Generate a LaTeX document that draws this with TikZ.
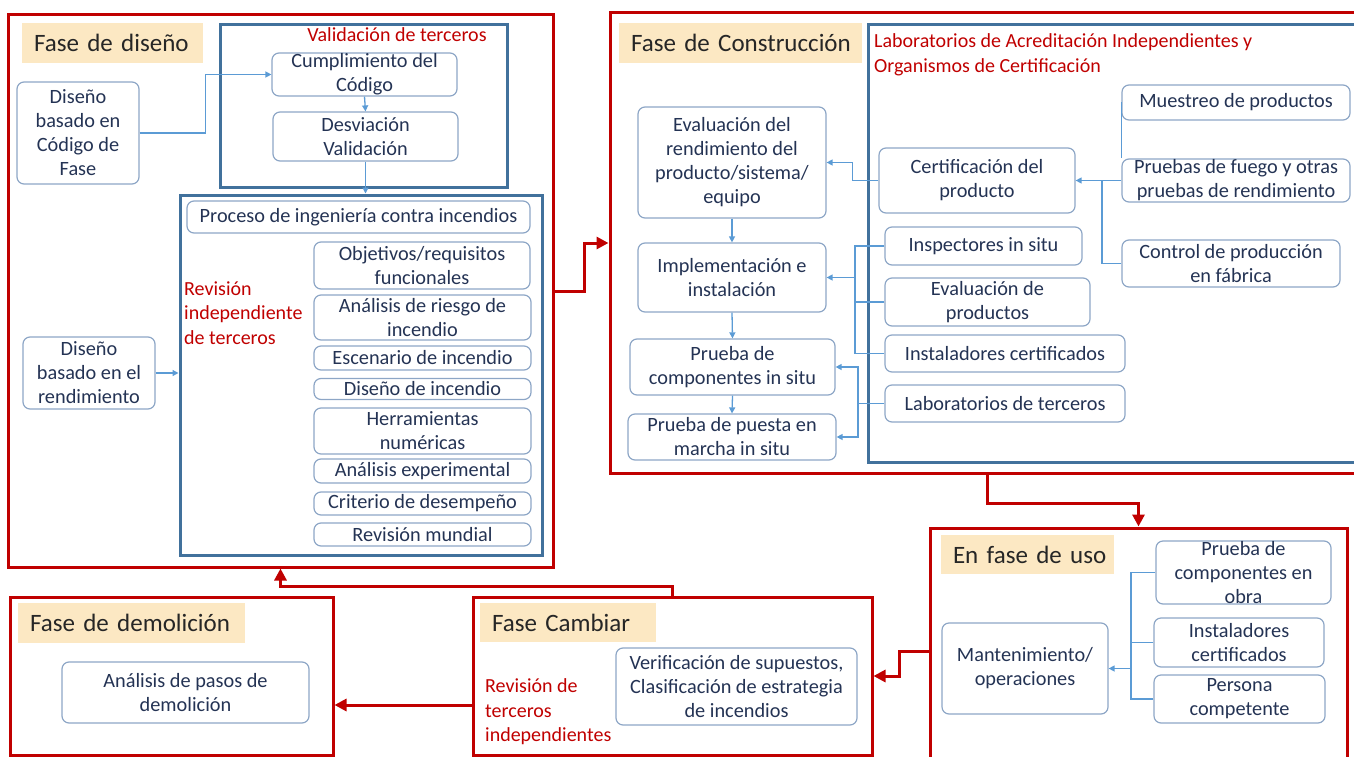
\documentclass[tikz,border=0pt]{standalone}
\usepackage{fontspec}
\setmainfont{Carlito}
\usepackage{xcolor}
\usetikzlibrary{arrows.meta,fit}
\definecolor{phred}{HTML}{C00000}
\definecolor{grpblue}{HTML}{41719C}
\definecolor{boxline}{HTML}{8DA6C6}
\definecolor{lnblue}{HTML}{5B9BD5}
\definecolor{txt}{HTML}{243354}
\definecolor{cream}{HTML}{FCE8C3}
\tikzset{
phase/.style={draw=phred, line width=3pt, inner sep=0pt},
panel/.style={draw=grpblue, line width=3pt, inner sep=0pt},
tag/.style={fill=cream, text=black!85, font=\fontsize{25}{29}\selectfont, inner sep=0pt},
box/.style={draw=boxline, line width=1.2pt, rounded corners=7pt, text=txt, align=center, font=\fontsize{20.3}{24}\selectfont, inner xsep=2pt, inner ysep=0pt},
note/.style={text=phred, align=left, font=\fontsize{20}{24.5}\selectfont, inner sep=0pt},
wire/.style={draw=lnblue, line width=1.3pt},
link/.style={wire, -{Triangle[length=6pt,width=6pt]}},
flow/.style={draw=phred, line width=3pt, -{Triangle[length=12pt,width=12pt]}}
}
\begin{document}
\begin{tikzpicture}[x=1pt,y=-1pt]
\useasboundingbox (0,0) rectangle (1354,757);
% Fase de diseño
\node[phase, fit={(8,15) (553,567)}] (disF) {};
\node[tag, minimum width=181, minimum height=40, text width=157] (disT) at (112.5,43) {\mbox{Fase de diseño}};
\node[panel, fit={(220,25) (507,187)}] (valG) {};
\node[note] (valN) at (397,35) {Validación de terceros};
\node[box, minimum width=185, minimum height=43] (cumpl) at (364.5,74.5) {Cumplimiento del\\Código};
\node[box, minimum width=185, minimum height=49] (desv) at (365.5,136.5) {Desviación\\Validación};
\node[box, minimum width=122, minimum height=102] (codF) at (78,133) {Diseño\\basado en\\Código de\\Fase};
\node[panel, fit={(180,195) (542,555)}] (revG) {};
\node[box, minimum width=343, minimum height=32] (proc) at (358.5,217) {Proceso de ingeniería contra incendios};
\node[note, anchor=west] (revN) at (184,313) {Revisión\\independiente\\de terceros};
\node[box, minimum width=216, minimum height=47] (obj) at (422,265.5) {Objetivos/requisitos\\funcionales};
\node[box, minimum width=217, minimum height=45] (riesgo) at (422.5,317.5) {Análisis de riesgo de\\incendio};
\node[box, minimum width=217, minimum height=24] (escen) at (422.5,358) {Escenario de incendio};
\node[box, minimum width=217, minimum height=21] (disInc) at (422.5,389) {Diseño de incendio};
\node[box, minimum width=217, minimum height=46] (herr) at (422.5,431) {Herramientas\\numéricas};
\node[box, minimum width=217, minimum height=24] (exper) at (422.5,471) {Análisis experimental};
\node[box, minimum width=217, minimum height=23] (crit) at (422.5,503.5) {Criterio de desempeño};
\node[box, minimum width=217, minimum height=23] (mund) at (422.5,534.5) {Revisión mundial};
\node[box, minimum width=132, minimum height=72] (rend) at (89,373) {Diseño\\basado en el\\rendimiento};
\draw[link] (codF.east) -- ++(66,0) |- (cumpl.west);
\draw[link] (cumpl.south) -- (desv.north);
\draw[link] (desv.south) -- (desv.south |- revG.north);
\draw[link] (rend.east) -- (rend.east -| revG.west);
% Fase de Construcción
\node[phase, fit={(610,13) (1365,473)}] (conF) {};
\node[tag, minimum width=243, minimum height=40, text width=219] (conT) at (740.5,43) {\mbox{Fase de Construcción}};
\node[panel, fit={(868,25) (1370,462)}] (labG) {};
\node[note, anchor=west] (labN) at (874,55) {Laboratorios de Acreditación Independientes y\\Organismos de Certificación};
\node[box, minimum width=188, minimum height=111] (evalR) at (732,162.5) {Evaluación del\\rendimiento del\\producto/sistema/\\equipo};
\node[box, minimum width=188, minimum height=69] (impl) at (732,277.5) {Implementación e\\instalación};
\node[box, minimum width=205, minimum height=56] (pComp) at (732.5,367) {Prueba de\\componentes in situ};
\node[box, minimum width=208, minimum height=46] (pPuesta) at (732,437) {Prueba de puesta en\\marcha in situ};
\node[box, minimum width=196, minimum height=65] (certif) at (977,180.5) {Certificación del\\producto};
\node[box, minimum width=197, minimum height=38] (insp) at (983.5,246) {Inspectores in situ};
\node[box, minimum width=205, minimum height=48] (evalP) at (987.5,302) {Evaluación de\\productos};
\node[box, minimum width=240, minimum height=37] (instal) at (1005,353.5) {Instaladores certificados};
\node[box, minimum width=240, minimum height=37] (labT) at (1005,403.5) {Laboratorios de terceros};
\node[box, minimum width=228, minimum height=35] (muest) at (1236,102.5) {Muestreo de productos};
\node[box, minimum width=228, minimum height=43] (fuego) at (1236,180.5) {Pruebas de fuego y otras\\pruebas de rendimiento};
\node[box, minimum width=218, minimum height=47] (ctrl) at (1231,263.5) {Control de producción\\en fábrica};
\coordinate (bI) at (855,277.5);
\coordinate (bL) at (858,403.5);
\coordinate (bC) at (1102,180.5);
\draw[link] (evalR.south) -- (impl.north);
\draw[link] (impl.south) -- (pComp.north);
\draw[link] (pComp.south) -- (pPuesta.north);
\draw[link] (certif.west) -- ++(-26,0) |- (evalR.east);
\draw[wire] (insp.west) -| (bI);
\draw[wire] (instal.west) -| (bI);
\draw[wire] (evalP.west) -- (evalP.west -| bI);
\draw[link] (bI) -- (impl.east);
\draw[wire] (labT.west) -- (bL);
\draw[link] (bL) |- (pComp.east);
\draw[link] (bL) |- (pPuesta.east);
\draw[link] (fuego.west) -- (certif.east);
\draw[wire] (muest.west) -- (muest.west |- fuego.north);
\draw[wire] (ctrl.west) -| (bC);
% En fase de uso
\node[phase, fit={(930,528) (1347,775)}] (usoF) {};
\node[tag, minimum width=173, minimum height=39, text width=149] (usoT) at (1027.5,554.5) {\mbox{En fase de uso}};
\node[box, minimum width=166, minimum height=91] (mant) at (1025,668.5) {Mantenimiento/\\operaciones};
\node[box, minimum width=175, minimum height=63] (cObra) at (1243.5,572.5) {Prueba de\\componentes en\\obra};
\node[box, minimum width=170, minimum height=49] (instU) at (1239,642.5) {Instaladores\\certificados};
\node[box, minimum width=171, minimum height=48] (pers) at (1239.5,699) {Persona\\competente};
\coordinate (bU) at (1131,668.5);
\draw[wire] (cObra.west) -| (bU);
\draw[wire] (pers.west) -| (bU);
\draw[wire] (instU.west) -- (instU.west -| bU);
\draw[link] (bU) -- (mant.east);
% Fase Cambiar
\node[phase, fit={(473,597) (872,755)}] (camF) {};
\node[tag, minimum width=176, minimum height=39, text width=152] (camT) at (568,622.5) {\mbox{Fase Cambiar}};
\node[note, anchor=west] (camN) at (485,712) {Revisión de\\terceros\\independientes};
\node[box, minimum width=241, minimum height=77] (verif) at (736.5,686.5) {Verificación de supuestos,\\Clasificación de estrategia\\de incendios};
% Fase de demolición
\node[phase, fit={(10,597) (333,755)}] (demF) {};
\node[tag, minimum width=227, minimum height=40, text width=203] (demT) at (131.5,623) {\mbox{Fase de demolición}};
\node[box, minimum width=247, minimum height=61] (pasos) at (185.5,692.5) {Análisis de pasos de\\demolición};
% flujo entre fases
\draw[flow] (disF.east) -- ++(30,0) |- (conF.west);
\draw[flow] (conF.south) -- ++(0,29) -| (usoF.north);
\draw[flow] (usoF.west) -- ++(-29,0) |- (camF.east);
\draw[flow] ([yshift=-29pt]camF.west) -- ([yshift=-29pt]demF.east);
\draw[flow] (camF.north) -- ++(0,-9) -| (disF.south);
\end{tikzpicture}
\end{document}
